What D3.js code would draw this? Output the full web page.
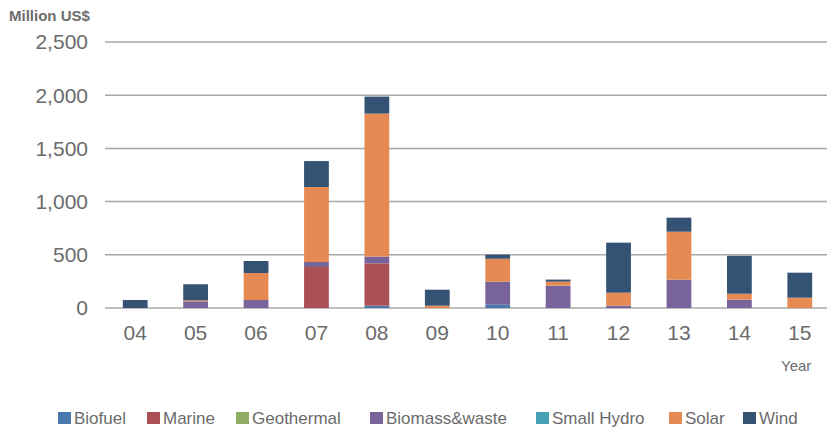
<!DOCTYPE html>
<html>
<head>
<meta charset="utf-8">
<script src="https://cdn.jsdelivr.net/npm/d3@7"></script>
<style>
  html, body { margin: 0; padding: 0; background: #fff; }
  svg { display: block; font-family: "Liberation Sans", Arial, Helvetica, sans-serif; }
</style>
</head>
<body>
<svg id="chart" width="827" height="430"></svg>
<script>
// Annual investment by technology, million US$
const years = ["04", "05", "06", "07", "08", "09", "10", "11", "12", "13", "14", "15"];
const biofuel    = [0, 0, 0, 0, 22, 0, 31, 0, 0, 0, 0, 0];
const marine     = [0, 0, 0, 385, 398, 0, 0, 0, 0, 0, 0, 0];
const geothermal = [0, 0, 0, 0, 0, 0, 0, 0, 0, 0, 0, 0];
const biomass    = [0, 63, 75, 47, 63, 0, 216, 210, 22, 266, 78, 0];
const smallHydro = [0, 0, 0, 0, 0, 0, 0, 0, 0, 0, 0, 0];
const solar      = [0, 10, 254, 705, 1344, 22, 216, 38, 122, 451, 56, 97];
const wind       = [75, 150, 113, 244, 160, 150, 38, 19, 470, 132, 357, 235];

const seriesNames = ["Biofuel", "Marine", "Geothermal", "Biomass&waste", "Small Hydro", "Solar", "Wind"];
const seriesValues = [biofuel, marine, geothermal, biomass, smallHydro, solar, wind];
const seriesColors = ["#4a78ad", "#ab5055", "#8fac62", "#78649a", "#45a0b3", "#e68a53", "#335274"];
const yTicks = [0, 500, 1000, 1500, 2000, 2500];

const rows = years.map((y, i) => {
  const r = { year: y };
  seriesNames.forEach((n, k) => { r[n] = seriesValues[k][i]; });
  return r;
});

const svg = d3.select("#chart");
const textColor = "#6b6b6b";

const x = d3.scaleBand().domain(years).range([105, 830])
  .paddingInner(0.59).paddingOuter(0.295);
const y = d3.scaleLinear().domain([0, 2500]).range([308, 42]);

// horizontal gridlines
svg.append("g").selectAll("line").data(yTicks).join("line")
  .attr("x1", 105).attr("x2", 827)
  .attr("y1", d => y(d)).attr("y2", d => y(d))
  .attr("stroke", "#a8a8a8").attr("stroke-width", 1.5);

// y axis labels
const fmt = d3.format(",");
svg.append("g").selectAll("text").data(yTicks).join("text")
  .attr("x", 88).attr("y", d => y(d))
  .attr("dy", "0.35em")
  .attr("text-anchor", "end")
  .attr("font-size", 21)
  .attr("fill", textColor)
  .text(d => fmt(d));

// stacked bars
const stack = d3.stack().keys(seriesNames);
const layers = stack(rows);
svg.append("g").selectAll("g").data(layers).join("g")
  .attr("fill", (d, i) => seriesColors[i])
  .selectAll("rect").data(d => d).join("rect")
  .attr("x", d => x(d.data.year))
  .attr("width", x.bandwidth())
  .attr("y", d => y(d[1]))
  .attr("height", d => Math.max(0, y(d[0]) - y(d[1])));

// x axis labels
svg.append("g").selectAll("text").data(years).join("text")
  .attr("x", d => x(d) + x.bandwidth() / 2)
  .attr("y", 333)
  .attr("dy", "0.35em")
  .attr("text-anchor", "middle")
  .attr("font-size", 21)
  .attr("fill", textColor)
  .text(d => d);

// axis titles
svg.append("text").attr("x", 9).attr("y", 20.5)
  .attr("font-size", 15).attr("font-weight", "bold").attr("fill", "#6e6e6e")
  .text("Million US$");
svg.append("text").attr("x", 781).attr("y", 371)
  .attr("font-size", 15).attr("fill", textColor)
  .text("Year");

// legend
const legendX = [58, 147, 236, 370, 536, 669, 743];
const legend = svg.append("g").selectAll("g").data(seriesNames).join("g")
  .attr("transform", (d, i) => `translate(${legendX[i]},412)`);
legend.append("rect").attr("width", 13).attr("height", 12)
  .attr("fill", (d, i) => seriesColors[i]);
legend.append("text").attr("x", 16).attr("y", 12)
  .attr("font-size", 17).attr("fill", textColor)
  .text(d => d);
</script>
</body>
</html>
